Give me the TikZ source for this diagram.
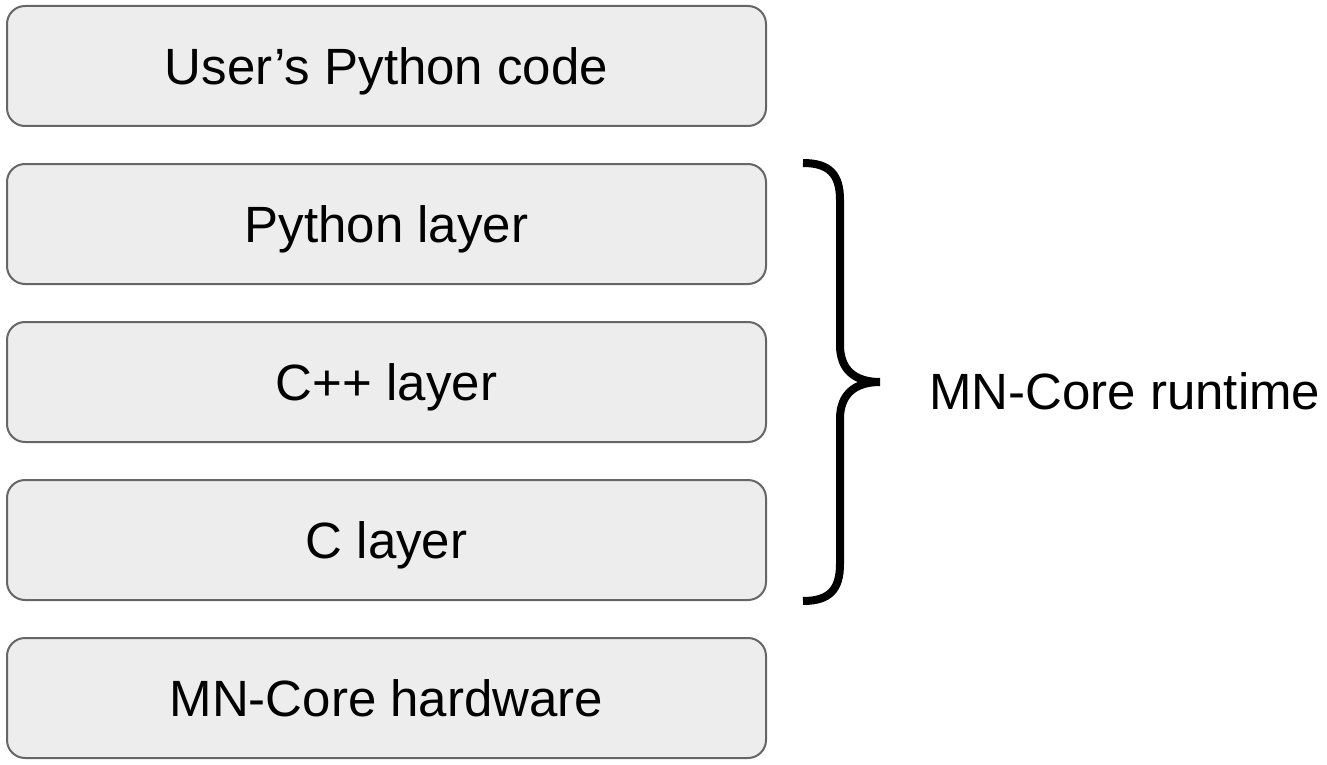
\documentclass[tikz,border=0pt]{standalone}
\usepackage{fontspec}
\setmainfont{Liberation Sans}
\usetikzlibrary{positioning}

\begin{document}
\begin{tikzpicture}[x=1pt, y=1pt, node distance=36pt,
  bigtext/.style={font=\fontsize{51}{60}\selectfont, text height=36.5pt, text depth=0pt},
  layerbox/.style={bigtext, draw=black!60, line width=2pt, fill=black!7, rounded corners=18pt,
    minimum width=759pt, minimum height=120pt, inner sep=0pt},
  bracepath/.style={line width=8pt, black}]
\useasboundingbox (0,0) rectangle (1327,-765);
\node[layerbox] (user) at (386.5,-66) {User’s Python code};
\node[layerbox, below=of user] (pylayer) {Python layer};
\node[layerbox, below=of pylayer] (cpplayer) {C++ layer};
\node[layerbox, below=of cpplayer] (clayer) {C layer};
\node[layerbox, below=of clayer] (hw) {MN-Core hardware};
% brace over the runtime layers
\coordinate (tip) at (880,-382);
\draw[bracepath] (803,-163) .. controls (830,-163) and (840,-175) .. (840,-200)
  -- (840,-345) .. controls (840,-370) and (855,-382) .. (tip)
  .. controls (855,-382) and (840,-394) .. (840,-419)
  -- (840,-564) .. controls (840,-589) and (830,-601) .. (803,-601);
\node[bigtext, anchor=west, inner sep=0pt] (runtime) at (929,-391.5) {MN-Core runtime};
\end{tikzpicture}
\end{document}
